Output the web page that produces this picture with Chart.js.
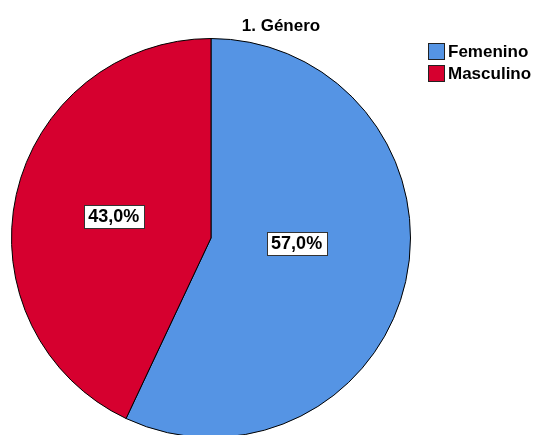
<!DOCTYPE html>
<html>
<head>
<meta charset="utf-8">
<script src="https://cdn.jsdelivr.net/npm/chart.js@4.4.0/dist/chart.umd.min.js"></script>
<style>
  html, body { margin: 0; padding: 0; background: #fff; overflow: hidden; }
  #wrap { width: 539px; height: 435px; overflow: hidden; }
</style>
</head>
<body>
<div id="wrap"><canvas id="pie" width="539" height="480"></canvas></div>
<script>
// Datos del gráfico
const chartTitle = '1. Género';
const categories = ['Femenino', 'Masculino'];
const percents = [57.0, 43.0];
const sliceColors = ['#5594E4', '#D6002F'];

// Posición de etiquetas: fracción del radio y ajuste de ángulo (grados)
const labelDist = [0.43, 0.5];
const labelAngleShift = [-9, 0];

const fontFam = 'Arial, "Liberation Sans", sans-serif';

// Etiquetas de porcentaje con recuadro blanco
const boxLabels = {
    id: 'boxLabels',
    afterDatasetsDraw(chart) {
        const ctx = chart.ctx;
        const meta = chart.getDatasetMeta(0);
        ctx.save();
        ctx.font = 'bold 18px ' + fontFam;
        ctx.textAlign = 'center';
        ctx.textBaseline = 'middle';
        meta.data.forEach((arc, i) => {
            const p = arc.getProps(['x', 'y', 'startAngle', 'endAngle', 'outerRadius'], true);
            const mid = (p.startAngle + p.endAngle) / 2 + labelAngleShift[i] * Math.PI / 180;
            const r = p.outerRadius * labelDist[i];
            const x = p.x + Math.cos(mid) * r;
            const y = p.y + Math.sin(mid) * r;
            const txt = percents[i].toFixed(1).replace('.', ',') + '%';
            const w = ctx.measureText(txt).width + 9;
            const h = 23;
            ctx.fillStyle = '#fff';
            ctx.fillRect(Math.round(x - w / 2) + 0.5, Math.round(y - h / 2) + 0.5, Math.round(w), h);
            ctx.strokeStyle = '#333';
            ctx.lineWidth = 1;
            ctx.strokeRect(Math.round(x - w / 2) + 0.5, Math.round(y - h / 2) + 0.5, Math.round(w), h);
            ctx.fillStyle = '#000';
            ctx.fillText(txt, x, y + 1);
        });
        ctx.restore();
    }
};

// Título y leyenda al estilo SPSS
const titleLegend = {
    id: 'titleLegend',
    afterDraw(chart) {
        const ctx = chart.ctx;
        ctx.save();
        ctx.fillStyle = '#000';
        ctx.font = 'bold 17px ' + fontFam;
        ctx.textAlign = 'center';
        ctx.textBaseline = 'middle';
        ctx.fillText(chartTitle, 281, 26);

        ctx.font = 'bold 17px ' + fontFam;
        ctx.textAlign = 'left';
        categories.forEach((c, i) => {
            const y = 43 + i * 22;
            ctx.fillStyle = sliceColors[i];
            ctx.fillRect(428.5, y + 0.5, 16, 16);
            ctx.strokeStyle = '#222';
            ctx.lineWidth = 1;
            ctx.strokeRect(428.5, y + 0.5, 16, 16);
            ctx.fillStyle = '#000';
            ctx.fillText(c, 448, y + 9);
        });
        ctx.restore();
    }
};

new Chart(document.getElementById('pie'), {
    type: 'pie',
    data: {
        labels: categories,
        datasets: [{
            data: percents,
            backgroundColor: sliceColors,
            borderColor: '#000',
            borderWidth: 1,
            hoverOffset: 0
        }]
    },
    options: {
        responsive: false,
        animation: false,
        devicePixelRatio: 1,
        layout: { padding: { left: 11, right: 128, top: 38, bottom: 42 } },
        plugins: {
            legend: { display: false },
            title: { display: false },
            tooltip: { enabled: false }
        }
    },
    plugins: [boxLabels, titleLegend]
});
</script>
</body>
</html>
